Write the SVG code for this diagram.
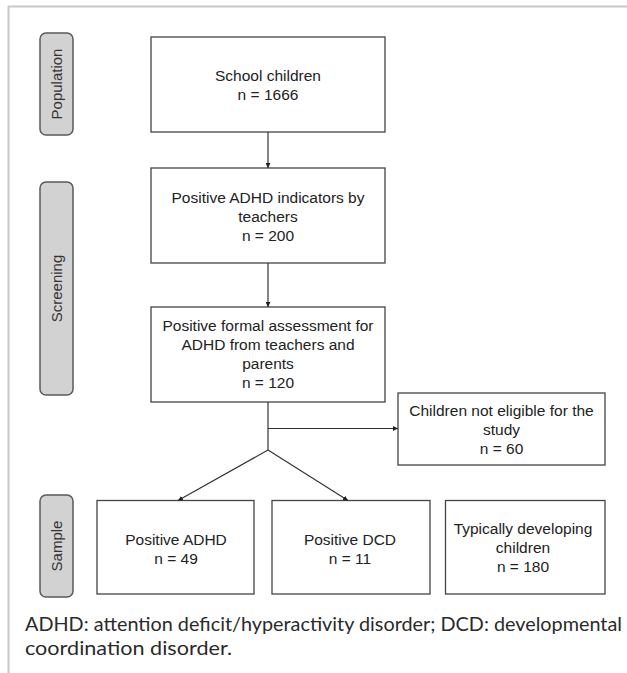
<svg xmlns="http://www.w3.org/2000/svg" width="627" height="673" viewBox="0 0 627 673">
<defs>
<style>
.frame{stroke:#c8c8c8;stroke-width:2;fill:none}
.lab{fill:#d2d2d2;stroke:#5a5a5a;stroke-width:1.5}
.box{fill:#fff;stroke:#444;stroke-width:1.3}
.t{font-family:"Liberation Sans",Arial,sans-serif;font-size:15.5px;fill:#222;text-anchor:middle}
.lt{font-family:"Liberation Sans",Arial,sans-serif;font-size:15px;fill:#333;text-anchor:middle}
.con{stroke:#333;stroke-width:1.2;fill:none}
.cap{font-family:Lato,"Open Sans",sans-serif;font-size:19px;font-weight:400;fill:#2a2a2a}
</style>
<marker id="ah" viewBox="0 0 6 6" refX="6" refY="3" markerWidth="5" markerHeight="5" orient="auto" markerUnits="userSpaceOnUse">
<path d="M0,0 L6,3 L0,6 z" fill="#222"/>
</marker>
</defs>
<rect width="627" height="673" fill="#fff"/>
<path class="frame" d="M627,6.5 H8.5 V673"/>

<g id="label-population">
<rect class="lab" x="40" y="33" width="33" height="102" rx="6"/>
<text class="lt" transform="translate(56.5,84) rotate(-90)" y="5.5">Population</text>
</g>
<g id="label-screening">
<rect class="lab" x="40" y="182" width="33" height="213" rx="6"/>
<text class="lt" transform="translate(56.5,288.5) rotate(-90)" y="5.5">Screening</text>
</g>
<g id="label-sample">
<rect class="lab" x="40" y="495" width="33" height="102" rx="6"/>
<text class="lt" transform="translate(56.5,546) rotate(-90)" y="5.5">Sample</text>
</g>

<g id="node-school">
<rect class="box" x="151" y="37" width="234" height="95"/>
<text class="t" x="268" y="81">School children</text>
<text class="t" x="268" y="100">n = 1666</text>
</g>
<g id="node-indicators">
<rect class="box" x="151" y="168" width="234" height="95"/>
<text class="t" x="268" y="203">Positive ADHD indicators by</text>
<text class="t" x="268" y="222">teachers</text>
<text class="t" x="268" y="241">n = 200</text>
</g>
<g id="node-assessment">
<rect class="box" x="151" y="307" width="234" height="95"/>
<text class="t" x="268" y="331">Positive formal assessment for</text>
<text class="t" x="268" y="350">ADHD from teachers and</text>
<text class="t" x="268" y="369">parents</text>
<text class="t" x="268" y="388">n = 120</text>
</g>
<g id="node-noteligible">
<rect class="box" x="398" y="393" width="207" height="72"/>
<text class="t" x="501.5" y="416">Children not eligible for the</text>
<text class="t" x="501.5" y="435">study</text>
<text class="t" x="501.5" y="454">n = 60</text>
</g>
<g id="node-adhd">
<rect class="box" x="97" y="500.5" width="157" height="93.5"/>
<text class="t" x="176" y="544.5">Positive ADHD</text>
<text class="t" x="176" y="563.5">n = 49</text>
</g>
<g id="node-dcd">
<rect class="box" x="272" y="500.5" width="158" height="93.5"/>
<text class="t" x="350" y="544.5">Positive DCD</text>
<text class="t" x="350" y="563.5">n = 11</text>
</g>
<g id="node-typical">
<rect class="box" x="445.5" y="500.5" width="159.5" height="93.5"/>
<text class="t" x="523" y="534">Typically developing</text>
<text class="t" x="523" y="553">children</text>
<text class="t" x="523" y="572">n = 180</text>
</g>

<g id="connectors">
<line class="con" x1="268" y1="132" x2="268" y2="168" marker-end="url(#ah)"/>
<line class="con" x1="268" y1="263" x2="268" y2="307" marker-end="url(#ah)"/>
<line class="con" x1="268" y1="402" x2="268" y2="450"/>
<line class="con" x1="268" y1="428.5" x2="398" y2="428.5" marker-end="url(#ah)"/>
<line class="con" x1="268" y1="450" x2="178" y2="500.5" marker-end="url(#ah)"/>
<line class="con" x1="268" y1="450" x2="348" y2="500.5" marker-end="url(#ah)"/>
</g>

<g id="caption">
<text class="cap" x="25" y="631" textLength="597" lengthAdjust="spacingAndGlyphs">ADHD: attention deficit/hyperactivity disorder; DCD: developmental</text>
<text class="cap" x="25" y="655" textLength="207" lengthAdjust="spacingAndGlyphs">coordination disorder.</text>
</g>
</svg>
